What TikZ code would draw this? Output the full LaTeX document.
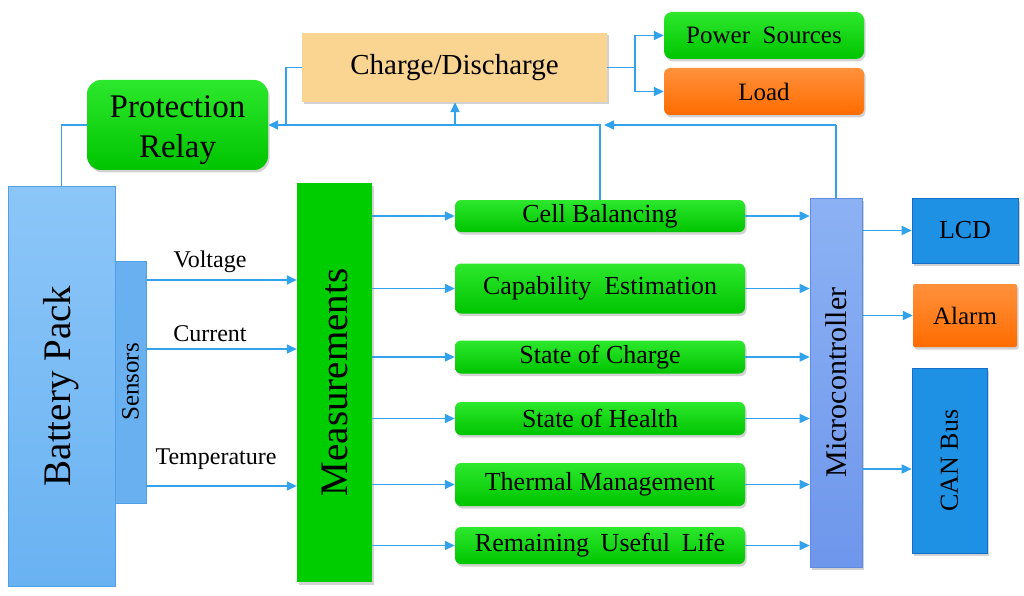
\documentclass[tikz,border=0pt]{standalone}
\usepackage{fontspec}
\setmainfont{Liberation Serif}
\usetikzlibrary{arrows.meta,shadows}
\definecolor{lnblue}{RGB}{50,162,236}
\definecolor{gtop}{RGB}{45,232,45}
\definecolor{gbot}{RGB}{0,196,0}
\definecolor{gmeas}{RGB}{0,205,0}
\definecolor{battop}{RGB}{140,198,248}
\definecolor{batbot}{RGB}{105,178,242}
\definecolor{batedge}{RGB}{80,160,230}
\definecolor{senscol}{RGB}{105,176,240}
\definecolor{microtop}{RGB}{140,178,244}
\definecolor{microbot}{RGB}{110,150,235}
\definecolor{microedge}{RGB}{95,140,225}
\definecolor{dblue}{RGB}{30,145,228}
\definecolor{dbedge}{RGB}{20,110,200}
\definecolor{otop}{RGB}{255,145,60}
\definecolor{obot}{RGB}{255,108,0}
\definecolor{cdcol}{RGB}{250,212,145}
\tikzset{
  ln/.style={draw=lnblue, line width=1.6pt},
  arr/.style={draw=lnblue, line width=1.6pt, -{Triangle[length=10pt,width=9pt]}},
  shad/.style={drop shadow={opacity=0.35, shadow xshift=1.5pt, shadow yshift=-2.5pt}},
  gbox/.style={shad, rounded corners=6pt, top color=gtop, bottom color=gbot, inner sep=0pt,
    minimum width=290pt, font=\fontsize{26}{30}\selectfont},
  obox/.style={shad, rounded corners=6pt, top color=otop, bottom color=obot, inner sep=0pt,
    font=\fontsize{25}{30}\selectfont},
  bbox/.style={shad, fill=dblue, draw=dbedge, line width=0.6pt, inner sep=0pt,
    font=\fontsize{26}{30}\selectfont},
  lbl/.style={inner sep=0pt, font=\fontsize{24}{28}\selectfont},
}
\begin{document}
\begin{tikzpicture}[x=1pt,y=-1pt]
\useasboundingbox[fill=white] (0,0) rectangle (1024,596);

% top row
\node[shad, fill=cdcol, minimum width=305pt, minimum height=69pt, inner sep=0pt,
  font=\fontsize{29}{32}\selectfont] (cd) at (454.5,67.5) {Charge/Discharge};
\node[shad, rounded corners=8pt, top color=gtop, bottom color=gbot, minimum width=200pt,
  minimum height=47pt, inner sep=0pt, font=\fontsize{25}{30}\selectfont] (ps) at (764,35.5) {Power\hspace{0.25em} Sources};
\node[obox, minimum width=200pt, minimum height=47pt] (load) at (764,91.5) {Load};
\node[shad, rounded corners=14pt, top color=gtop, bottom color=gbot, minimum width=181pt,
  minimum height=90pt, inner sep=0pt, font=\fontsize{33}{40}\selectfont] (relay) at (177.5,125)
  {\raisebox{-5pt}[\height][\depth]{\begin{tabular}{@{}c@{}}Protection\\Relay\end{tabular}}};

% left column
\node[top color=battop, bottom color=batbot, draw=batedge, line width=0.6pt, minimum width=107pt,
  minimum height=400pt, inner sep=0pt, font=\fontsize{39}{44}\selectfont] (bat) at (61.5,386) {\rotatebox{90}{Battery Pack}};
\node[fill=senscol, draw=batedge, line width=0.6pt, minimum width=31pt, minimum height=242pt,
  inner sep=0pt, font=\fontsize{25}{28}\selectfont] (sens) at (130.5,382) {\rotatebox{90}{Sensors}};
\node[shad, fill=gmeas, minimum width=75pt, minimum height=399pt, inner sep=0pt,
  font=\fontsize{39}{44}\selectfont] (meas) at (334.5,382.5) {\rotatebox{90}{Measurements}};

% function boxes
\node[gbox, minimum height=32pt] (cb) at (600,216) {Cell Balancing};
\node[gbox, minimum height=50pt] (cap) at (600,288.5) {Capability\hspace{0.25em} Estimation};
\node[gbox, minimum height=33pt] (soc) at (600,357) {State of Charge};
\node[gbox, minimum height=33pt] (soh) at (600,418.5) {State of Health};
\node[gbox, minimum height=43pt] (tm) at (600,484.5) {Thermal Management};
\node[gbox, minimum height=37pt] (rul) at (600,545.5) {Remaining\hspace{0.2em} Useful\hspace{0.2em} Life};

% microcontroller and outputs
\node[shad, top color=microtop, bottom color=microbot, draw=microedge, line width=0.6pt,
  minimum width=52pt, minimum height=369pt, inner sep=0pt, font=\fontsize{30}{32}\selectfont] (micro) at (836,382.5) {\rotatebox{90}{Microcontroller}};
\node[bbox, minimum width=106pt, minimum height=65pt] (lcd) at (965,230.5) {LCD};
\node[obox, rounded corners=2pt, minimum width=104pt, minimum height=63pt] (alarm) at (965,315.5) {Alarm};
\node[bbox, minimum width=75pt, minimum height=185pt] (can) at (949.5,460.5) {\rotatebox{90}{CAN Bus}};

% sensor labels
\node[lbl] (lv) at (210,262) {Voltage};
\node[lbl] (lc) at (210,334) {Current};
\node[lbl] (lt) at (216,459) {Temperature};

% coordinates
\coordinate (cdj) at (635,67.5);
\coordinate (cdl) at (286,67.5);
\coordinate (busl) at (286,125);
\coordinate (busc) at (455,125);
\coordinate (busm) at (836,125);
\coordinate (busb) at (604,125);

% top connectors
\draw[ln] (bat.north) |- (relay.west);
\draw[ln] (micro.north) -- (busm);
\draw[arr] (busm) -- (busb);
\draw[arr] (cb.north) |- (relay.east);
\draw[ln] (cd.west) -- (cdl) -- (busl);
\draw[arr] (busc) -- (busc |- cd.south);
\draw[ln] (cd.east) -- (cdj);
\draw[arr] (cdj) |- (ps.west);
\draw[arr] (cdj) |- (load.west);

% sensors -> measurements
\draw[arr] (sens.east |- 0,280) -- (meas.west |- 0,280);
\draw[arr] (sens.east |- 0,349) -- (meas.west |- 0,349);
\draw[arr] (sens.east |- 0,486) -- (meas.west |- 0,486);

% measurements -> functions -> micro
\foreach \b in {cb,cap,soc,soh,tm,rul}{
  \draw[arr] (meas.east |- \b.west) -- (\b.west);
  \draw[arr] (\b.east) -- (\b.east -| micro.west);
}

% micro -> outputs
\draw[arr] (micro.east |- lcd.west) -- (lcd.west);
\draw[arr] (micro.east |- alarm.west) -- (alarm.west);
\draw[arr] (micro.east |- 0,469) -- (can.west |- 0,469);
\end{tikzpicture}
\end{document}
